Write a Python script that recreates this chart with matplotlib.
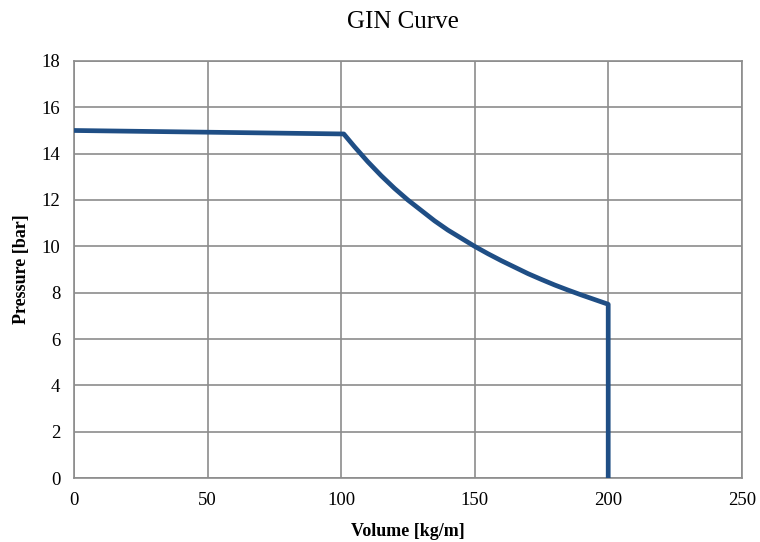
import matplotlib
matplotlib.use("Agg")
import matplotlib.pyplot as plt

volume = [0, 101, 105, 110, 115, 120, 125, 130, 135, 140, 145, 150, 155, 160, 165, 170, 175, 180, 185, 190, 195, 200, 200]
pressure = [15.0, 14.85, 14.3, 13.65, 13.05, 12.5, 12.0, 11.55, 11.1, 10.7, 10.35, 10.0, 9.68, 9.38, 9.1, 8.82, 8.57, 8.33, 8.11, 7.9, 7.7, 7.5, 0.0]

xticks = [0, 50, 100, 150, 200, 250]
yticks = [0, 2, 4, 6, 8, 10, 12, 14, 16, 18]

plt.rcParams['font.family'] = ['Liberation Serif', 'DejaVu Serif']

fig = plt.figure(figsize=(7.6, 5.42), dpi=100)
ax = fig.add_axes([0.0974, 0.118, 0.8786, 0.7695])
ax.plot(volume, pressure, color='#1f4e85', linewidth=3.4, solid_joinstyle='round', zorder=3)
ax.set_xlim(0, 250)
ax.set_ylim(0, 18)
ax.set_xticks(xticks)
ax.set_yticks(yticks)
ax.grid(True, color='#8c8c8c', linewidth=1.2)
for s in ax.spines.values():
    s.set_color('#8c8c8c')
    s.set_linewidth(1.2)
ax.tick_params(length=0, labelsize=13.5, pad=10)
ax.set_xlabel('Volume [kg/m]', fontsize=13, fontweight='bold', labelpad=10)
ax.set_ylabel('Pressure [bar]', fontsize=13, fontweight='bold', labelpad=8)
fig.text(0.53, 0.96, 'GIN Curve', ha='center', va='center', fontsize=18)
fig.savefig('out.png', dpi=100)
